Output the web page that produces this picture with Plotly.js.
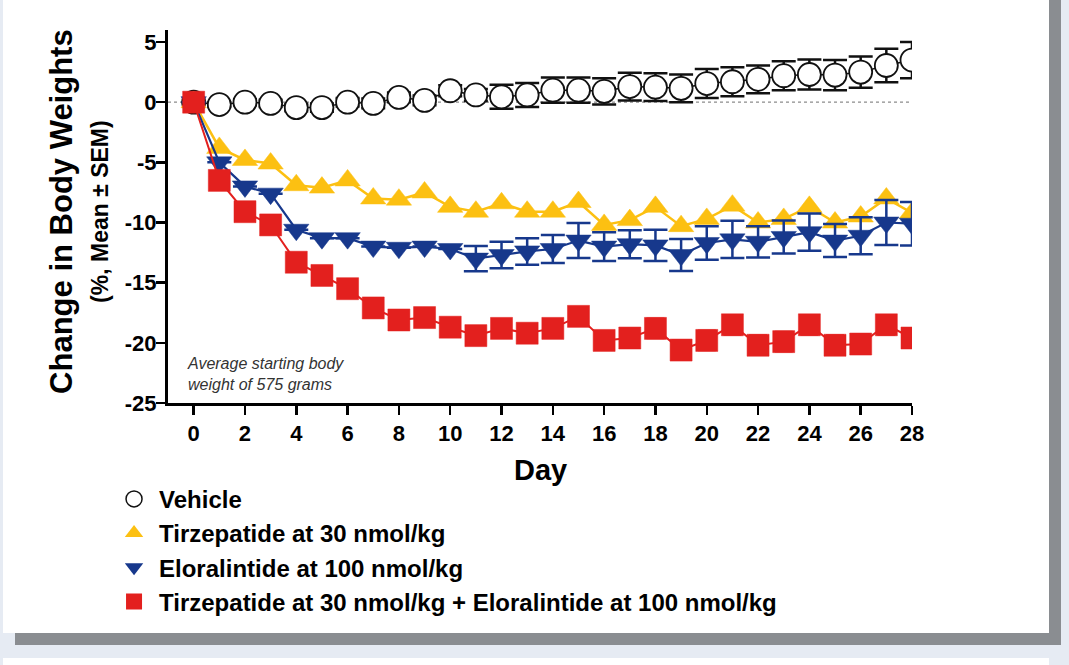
<!DOCTYPE html>
<html>
<head>
<meta charset="utf-8">
<script src="https://cdn.plot.ly/plotly-3.0.1.min.js"></script>
<style>
  html, body { margin: 0; padding: 0; }
  body { width: 1069px; height: 665px; background: #e6ebf3; position: relative; overflow: hidden; }
  .card { position: absolute; left: 3px; top: -20px; width: 1046px; height: 653px;
          background: #fff; box-shadow: 12px 12px 0 #8a8d91; }
  .card-next { position: absolute; left: 3px; top: 658px; width: 1046px; height: 30px; background: #fff; }
  #chart { position: absolute; left: 0; top: 0; width: 1069px; height: 665px; }
</style>
</head>
<body>
<div class="card"></div>
<div class="card-next"></div>
<div id="chart"></div>
<script>
(function () {
  "use strict";

  // Body weight change, % from day 0 (mean, SEM).
  // null SEM = bar hidden behind the symbol in the source, not readable.
  const days = [0, 1, 2, 3, 4, 5, 6, 7, 8, 9, 10, 11, 12, 13, 14,
                15, 16, 17, 18, 19, 20, 21, 22, 23, 24, 25, 26, 27, 28];

  const vehicle = [0, -0.2, 0, -0.1, -0.45, -0.45, 0, -0.1, 0.4, 0.15, 0.95, 0.6, 0.45, 0.6, 1.0,
                   1.0, 0.9, 1.3, 1.25, 1.15, 1.55, 1.7, 1.9, 2.2, 2.3, 2.25, 2.5, 3.05, 3.5];
  const vehicleSem = [0, 0.2, 0.25, 0.3, 0.3, 0.35, 0.35, 0.4, 0.4, 0.4, 0.45, 0.5, 1.0, 1.0, 1.05,
                      1.05, 1.1, 1.15, 1.15, 1.15, 1.2, 1.2, 1.15, 1.2, 1.25, 1.25, 1.3, 1.4, 1.5];

  const tirz = [0, -3.8, -4.8, -5.1, -6.9, -7.1, -6.5, -8.0, -8.1, -7.5, -8.7, -9.1, -8.4, -9.1, -9.1,
                -8.3, -10.2, -9.8, -8.7, -10.3, -9.7, -8.6, -10.0, -9.7, -8.7, -10.0, -9.5, -8.0, -9.2];

  const elor = [0, -5.0, -7.0, -7.6, -10.6, -11.3, -11.3, -12.0, -12.1, -12.0, -12.2, -13.0, -12.7, -12.4, -12.2,
                -11.5, -12.0, -11.8, -11.9, -12.7, -11.7, -11.4, -11.6, -11.2, -10.8, -11.5, -11.1, -10.0, -10.1];
  const elorSem = [null, null, null, null, null, null, null, null, null, null, null, 1.05, 1.1, 1.1, 1.16,
                   1.45, 1.2, 1.16, 1.3, 1.33, 1.4, 1.54, 1.3, 1.37, 1.54, 1.37, 1.54, 1.87, 1.8];

  const combo = [0, -6.5, -9.1, -10.2, -13.3, -14.4, -15.5, -17.1, -18.1, -17.9, -18.7, -19.4, -18.8, -19.2, -18.8,
                 -17.8, -19.8, -19.6, -18.8, -20.6, -19.8, -18.5, -20.2, -19.9, -18.5, -20.2, -20.1, -18.5, -19.6];
  const comboSem = [0, 0.4, 0.5, 0.5, 0.6, 0.6, 0.6, 0.6, 0.7, 0.7, 0.7, 0.7, 0.7, 0.7, 0.7,
                    0.7, 0.7, 0.7, 0.8, 0.8, 0.8, 0.8, 0.8, 0.8, 0.8, 0.8, 0.8, 0.8, 0.8];

  const yTicks = [-25, -20, -15, -10, -5, 0, 5];
  const yTickText = ["-25", "-20", "-15", "-10", "-5", "0", "5"];
  const xTicks = [0, 2, 4, 6, 8, 10, 12, 14, 16, 18, 20, 22, 24, 26, 28];

  const names = [
    "Vehicle",
    "Tirzepatide at 30 nmol/kg",
    "Eloralintide at 100 nmol/kg",
    "Tirzepatide at 30 nmol/kg + Eloralintide at 100 nmol/kg",
  ];

  const C = { black: "#111111", gold: "#fcc012", navy: "#17388c", red: "#e3201e", muted: "#8c8c8c" };
  const FONT = "Liberation Sans, Arial, Helvetica, sans-serif";

  function series(y, sem, color, symbol, size, lineW, markerFill, capW) {
    const t = {
      type: "scatter", mode: "lines+markers", x: days, y: y,
      showlegend: false, hoverinfo: "skip",
      line: { color: color, width: lineW },
      marker: { symbol: symbol, size: size, color: markerFill || color,
                line: { color: color, width: markerFill ? 1.8 : 0.5 } },
    };
    if (sem) {
      t.error_y = { type: "data", array: sem, visible: true, color: color, thickness: 2.5, width: capW };
    }
    return t;
  }

  // legend keys only (markers without line), so the legend matches the figure
  function key(name, color, symbol, fill) {
    return {
      type: "scatter", mode: "markers", x: [null], y: [null], name: name,
      marker: { symbol: symbol, size: 16, color: fill || color, line: { color: color, width: fill ? 1.5 : 0 } },
    };
  }

  const traces = [
    series(vehicle, vehicleSem, C.black, "circle", 23, 1.5, "#ffffff", 12),
    series(tirz, null, C.gold, "triangle-up", 22, 2.5),
    series(elor, elorSem, C.navy, "triangle-down", 22, 2.2, null, 12),
    series(combo, comboSem, C.red, "square", 22, 2, null, 9),
    key(names[0], C.black, "circle", "#ffffff"),
    key(names[1], C.gold, "triangle-up", null),
    key(names[2], C.navy, "triangle-down", null),
    key(names[3], C.red, "square", null),
  ];

  const axisBase = {
    showline: true, linecolor: "#000", linewidth: 3,
    ticks: "outside", ticklen: 9, tickwidth: 2.5, tickcolor: "#000",
    showgrid: false, zeroline: false, fixedrange: true,
    tickfont: { family: FONT, size: 22, color: "#000", weight: 700 },
  };

  const layout = {
    width: 1069, height: 665,
    paper_bgcolor: "rgba(0,0,0,0)", plot_bgcolor: "rgba(0,0,0,0)",
    margin: { l: 168, r: 157, t: 30, b: 262, autoexpand: false },
    font: { family: FONT, color: "#000" },
    xaxis: { ...axisBase, range: [-1, 28], tickmode: "array", tickvals: xTicks, ticktext: xTicks.map(String),
             ticklabelstandoff: 0 },
    yaxis: { ...axisBase, range: [-25, 6], tickmode: "array", tickvals: yTicks, ticktext: yTickText,
             ticklabelstandoff: -5 },
    shapes: [{
      type: "line", xref: "paper", x0: 0, x1: 1, yref: "y", y0: 0, y1: 0, layer: "below",
      line: { color: C.muted, width: 1.3, dash: "dot" },
    }],
    showlegend: true,
    legend: {
      xref: "container", yref: "container", x: 0.102, y: 0.283, xanchor: "left", yanchor: "top",
      bgcolor: "rgba(0,0,0,0)", borderwidth: 0, itemwidth: 40, tracegroupgap: 0,
      font: { family: FONT, size: 24, color: "#000", weight: 700 },
      itemclick: false, itemdoubleclick: false,
    },
    annotations: [
      { text: "Change in Body Weights", xref: "paper", yref: "paper", x: -0.1425, y: 0.515,
        textangle: -90, showarrow: false, xanchor: "center", yanchor: "middle",
        font: { family: FONT, size: 31, color: "#000", weight: 700 } },
      { text: "(%, Mean \u00b1 SEM)", xref: "paper", yref: "paper", x: -0.0914, y: 0.515,
        textangle: -90, showarrow: false, xanchor: "center", yanchor: "middle",
        font: { family: FONT, size: 23, color: "#000", weight: 700 } },
      { text: "Day", xref: "paper", yref: "paper", x: 0.5, y: -0.18,
        showarrow: false, xanchor: "center", yanchor: "middle",
        font: { family: FONT, size: 29, color: "#000", weight: 700 } },
      { text: "Average starting body<br>weight of 575 grams", xref: "paper", yref: "paper",
        x: 0.0228, y: 0.079, showarrow: false, xanchor: "left", yanchor: "middle", align: "left",
        font: { family: FONT, size: 16, color: "#333", style: "italic" } },
    ],
  };

  Plotly.newPlot("chart", traces, layout, { displayModeBar: false, staticPlot: true });
})();
</script>
</body>
</html>
